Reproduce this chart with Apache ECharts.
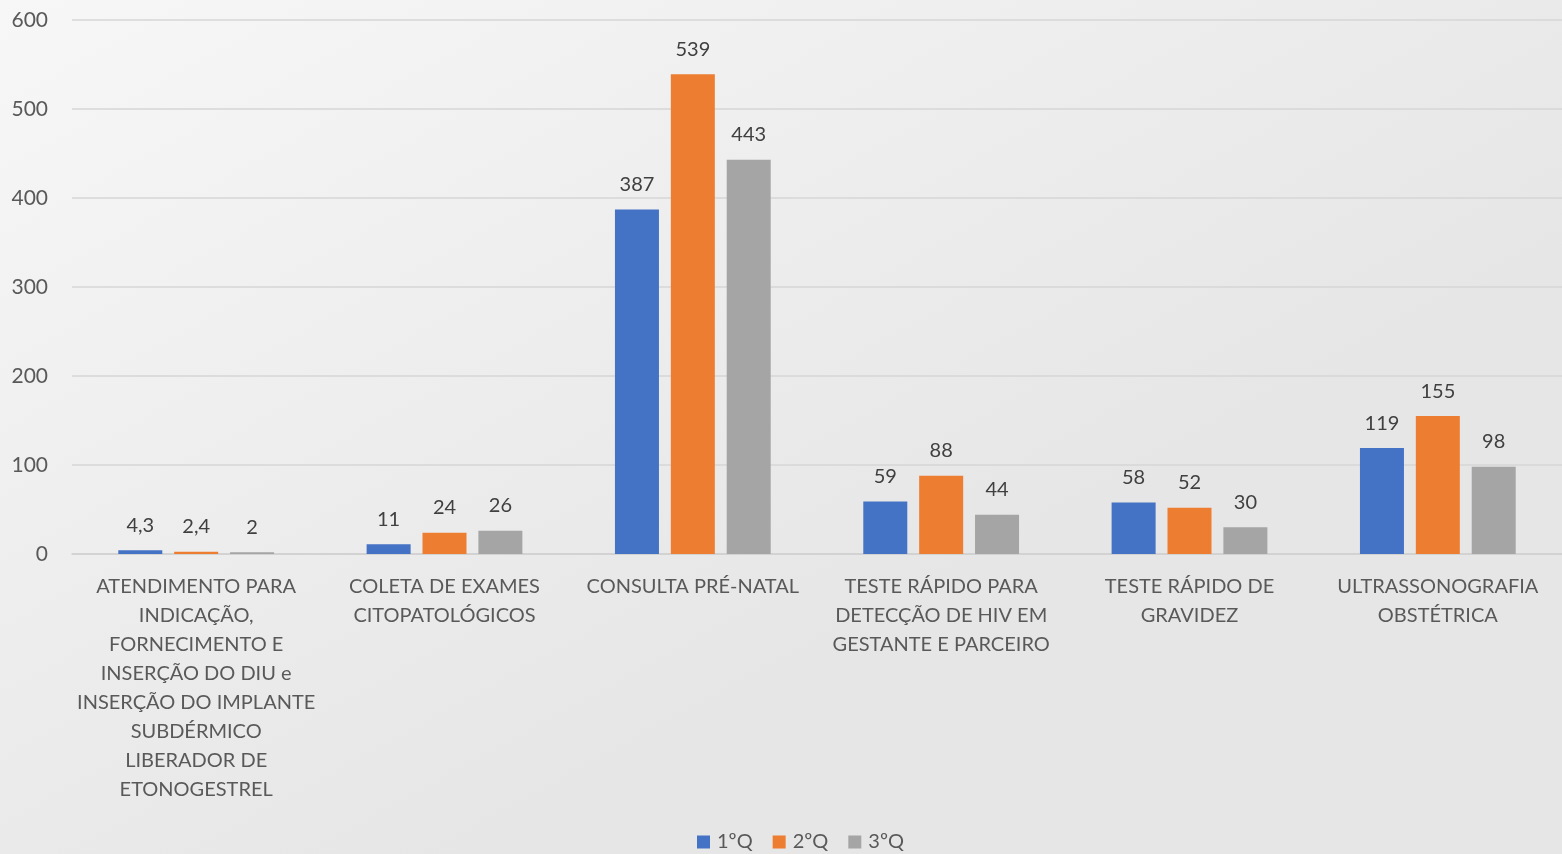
<!DOCTYPE html>
<html>
<head>
<meta charset="utf-8">
<script src="https://cdn.jsdelivr.net/npm/echarts@6/dist/echarts.min.js"></script>
<style>
  html, body { margin: 0; padding: 0; }
  #chart { width: 1562px; height: 854px; }
</style>
</head>
<body>
<div id="chart"></div>
<script>
// categorias (eixo x)
var categories = [
  'ATENDIMENTO PARA\nINDICAÇÃO,\nFORNECIMENTO E\nINSERÇÃO DO DIU e\nINSERÇÃO DO IMPLANTE\nSUBDÉRMICO\nLIBERADOR DE\nETONOGESTREL',
  'COLETA DE EXAMES\nCITOPATOLÓGICOS',
  'CONSULTA PRÉ-NATAL',
  'TESTE RÁPIDO PARA\nDETECÇÃO DE HIV EM\nGESTANTE E PARCEIRO',
  'TESTE RÁPIDO DE\nGRAVIDEZ',
  'ULTRASSONOGRAFIA\nOBSTÉTRICA'
];
var seriesNames = ['1ºQ', '2ºQ', '3ºQ'];
var q1 = [4.3, 11, 387, 59, 58, 119];
var q2 = [2.4, 24, 539, 88, 52, 155];
var q3 = [2, 26, 443, 44, 30, 98];
var colors = ['#4472C4', '#ED7D31', '#A5A5A5'];

var font = 'Lato, "Open Sans", sans-serif';

var myChart = echarts.init(document.getElementById('chart'));

function makeSeries(name, data, color) {
  return {
    name: name,
    type: 'bar',
    data: data,
    barWidth: 44,
    barGap: '27%',
    itemStyle: { color: color },
    label: {
      show: true,
      position: 'top',
      distance: 15,
      color: '#404040',
      fontSize: 20,
      fontFamily: font,
      formatter: function (p) { return String(p.value).replace('.', ','); }
    }
  };
}

var option = {
  backgroundColor: {
    type: 'linear', x: 0, y: 0, x2: 0.3, y2: 1,
    colorStops: [
      { offset: 0, color: '#f7f7f7' },
      { offset: 1, color: '#e6e6e6' }
    ]
  },
  textStyle: { fontFamily: font },
  grid: { left: 72, right: 0, top: 20, bottom: 300 },
  legend: {
    data: seriesNames,
    bottom: -3,
    left: 692,
    itemWidth: 13,
    itemHeight: 13,
    itemGap: 20,
    icon: 'rect',
    textStyle: { color: '#595959', fontSize: 20, fontFamily: font, padding: [0, 0, 0, 2] }
  },
  xAxis: {
    type: 'category',
    data: categories,
    axisTick: { show: false },
    axisLine: { lineStyle: { color: '#d0d0d0', width: 1.5 } },
    axisLabel: {
      interval: 0,
      margin: 18,
      color: '#595959',
      fontSize: 20,
      lineHeight: 29,
      fontFamily: font
    }
  },
  yAxis: {
    type: 'value',
    min: 0,
    max: 600,
    interval: 100,
    axisLine: { show: false },
    axisTick: { show: false },
    splitLine: { lineStyle: { color: '#d6d6d6', width: 1.5 } },
    axisLabel: {
      margin: 24,
      color: '#595959',
      fontSize: 21,
      fontFamily: font
    }
  },
  series: [
    makeSeries(seriesNames[0], q1, colors[0]),
    makeSeries(seriesNames[1], q2, colors[1]),
    makeSeries(seriesNames[2], q3, colors[2])
  ]
};

myChart.setOption(option);
</script>
</body>
</html>
